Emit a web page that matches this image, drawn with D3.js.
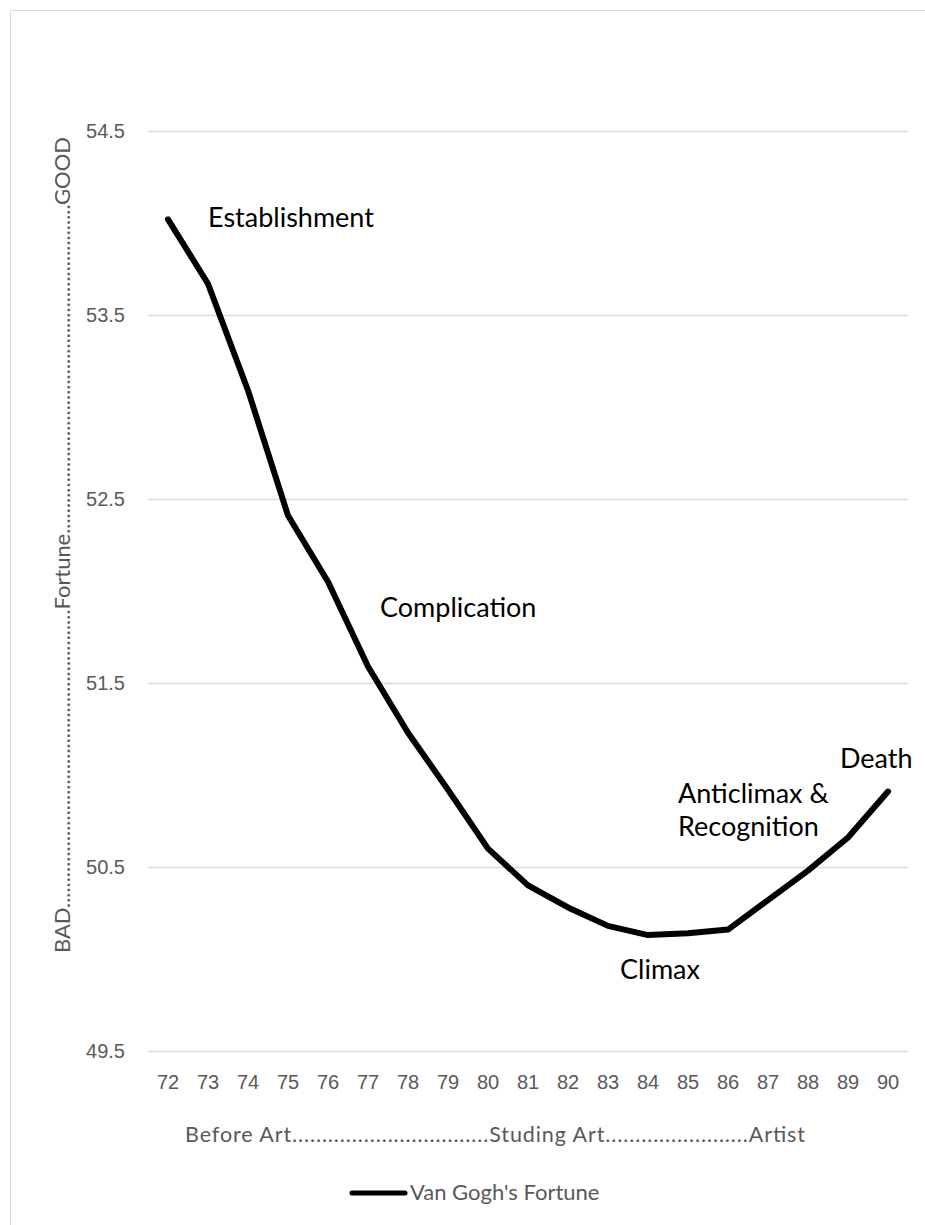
<!DOCTYPE html>
<html>
<head>
<meta charset="utf-8">
<script src="https://cdn.jsdelivr.net/npm/d3@7"></script>
<style>
  html, body { margin: 0; padding: 0; background: #fff; }
  svg { display: block; font-family: Lato, "Open Sans", sans-serif; }
</style>
</head>
<body>
<svg id="chart" width="925" height="1225"></svg>
<script>
// Van Gogh's fortune over the years 1872–1890
const years = ["72","73","74","75","76","77","78","79","80","81","82","83","84","85","86","87","88","89","90"];
const fortune = [54.02, 53.67, 53.09, 52.41, 52.05, 51.59, 51.23, 50.92, 50.60, 50.40, 50.28, 50.18, 50.13, 50.14, 50.16, 50.32, 50.48, 50.66, 50.91];
const yTicks = [49.5, 50.5, 51.5, 52.5, 53.5, 54.5];
const seriesName = "Van Gogh's Fortune";

// Story stages placed along the curve: [label, year, value]
const stageLabels = ["Establishment", "Complication", "Climax", "Anticlimax &", "Recognition", "Death"];
const stageYears  = ["73", "78", "84", "86", "86", "89"];
const stageValues = [53.98, 51.86, 49.89, 50.85, 50.67, 51.04];

const svg = d3.select("#chart");
const W = 925, H = 1225;
const plot = { left: 148, right: 908, top: 131, bottom: 1051 };

// chart frame
svg.append("rect")
  .attr("x", 10.5).attr("y", 10.5)
  .attr("width", W + 20).attr("height", H + 20)
  .attr("fill", "#fff").attr("stroke", "#d9d9d9").attr("stroke-width", 1);

const x = d3.scaleBand().domain(years).range([plot.left, plot.right]);
const xc = d => x(d) + x.bandwidth() / 2;
const y = d3.scaleLinear().domain([49.5, 54.5]).range([plot.bottom, plot.top]);

// horizontal gridlines + value labels
const yAxis = d3.axisLeft(y).tickValues(yTicks).tickFormat(d3.format(".1f"))
  .tickSize(-(plot.right - plot.left)).tickPadding(23);
const gy = svg.append("g").attr("transform", `translate(${plot.left},0)`).call(yAxis);
gy.select(".domain").remove();
gy.selectAll(".tick line").attr("stroke", "#d9d9d9").attr("stroke-width", 1.3);
gy.selectAll(".tick text").attr("fill", "#595959").style("font-size", "20px");

// year labels
const xAxis = d3.axisBottom(x).tickSize(0).tickPadding(24);
const gx = svg.append("g").attr("transform", `translate(0,${plot.bottom})`).call(xAxis);
gx.select(".domain").remove();
gx.selectAll(".tick text").attr("fill", "#595959").style("font-size", "20px");

// fortune line
const line = d3.line().x((d, i) => xc(years[i])).y(d => y(d));
svg.append("path")
  .datum(fortune)
  .attr("d", line)
  .attr("fill", "none")
  .attr("stroke", "#000")
  .attr("stroke-width", 6)
  .attr("stroke-linejoin", "round")
  .attr("stroke-linecap", "round");

// stage annotations
const stageDx = [0, -28, -28, -50, -50, -8];
svg.append("g").selectAll("text")
  .data(stageLabels)
  .join("text")
  .attr("x", (d, i) => xc(stageYears[i]) + stageDx[i])
  .attr("y", (d, i) => y(stageValues[i]))
  .attr("fill", "#000")
  .style("font-size", "27px")
  .text(d => d);

// vertical axis title: BAD ... Fortune ... GOOD
const dots = n => ".".repeat(n);
svg.append("text")
  .attr("transform", "translate(70,953) rotate(-90)")
  .attr("fill", "#595959")
  .style("font-size", "22px")
  .attr("textLength", 816)
  .attr("lengthAdjust", "spacing")
  .text("BAD" + dots(58) + "Fortune" + dots(64) + "GOOD");

// horizontal axis title: life stages
svg.append("text")
  .attr("x", 185).attr("y", 1142)
  .attr("fill", "#595959")
  .style("font-size", "21.5px")
  .attr("textLength", 620)
  .attr("lengthAdjust", "spacing")
  .text("Before Art" + dots(33) + "Studing Art" + dots(24) + "Artist");

// legend
const lg = svg.append("g").attr("transform", "translate(350,1193)");
lg.append("line").attr("x1", 2).attr("x2", 55).attr("y1", 0).attr("y2", 0)
  .attr("stroke", "#000").attr("stroke-width", 5).attr("stroke-linecap", "round");
lg.append("text").attr("x", 60).attr("y", 7)
  .attr("fill", "#595959").style("font-size", "22px").text(seriesName);
</script>
</body>
</html>
